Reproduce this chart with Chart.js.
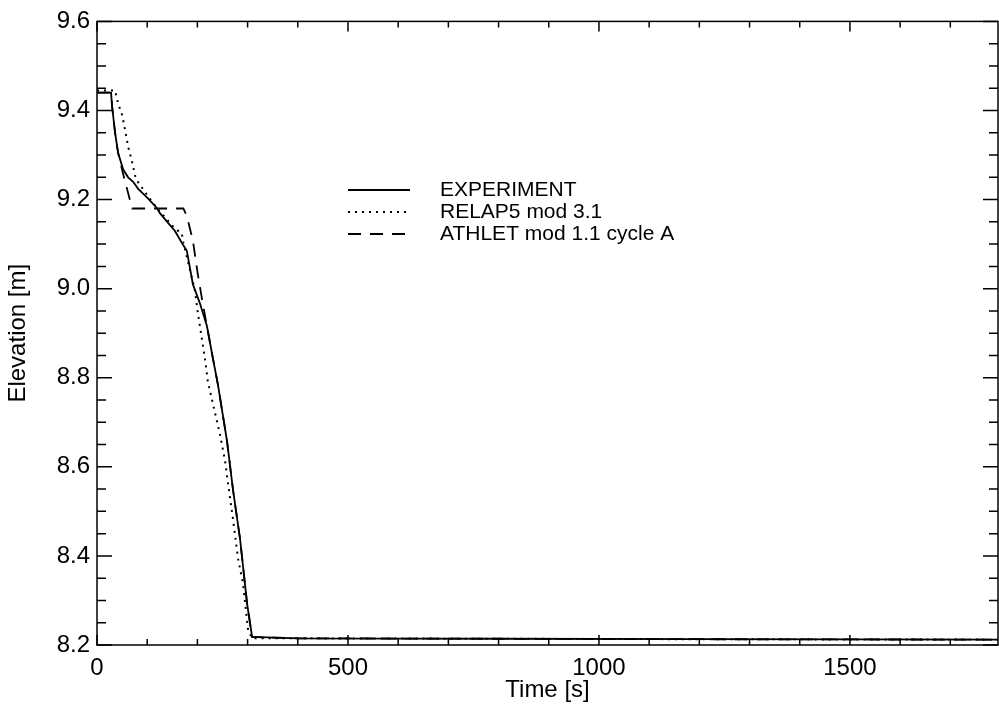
<!DOCTYPE html>
<html>
<head>
<meta charset="utf-8">
<title>Elevation vs time</title>
<script src="https://cdn.jsdelivr.net/npm/chart.js@4.4.1/dist/chart.umd.min.js"></script>
<style>
  html, body { margin: 0; padding: 0; background: #fff; overflow: hidden; }
  canvas { display: block; }
</style>
</head>
<body>
<canvas id="elevChart" width="999" height="712"></canvas>
<script>
// measured curves (time in s, elevation in m)
const expTime = [0, 28, 30, 36, 42, 52, 62, 72, 82, 102, 120, 125, 139, 155, 171, 179, 191, 205, 219, 231, 241, 259, 271, 285, 299, 309, 400, 800, 1200, 1800];
const expElev = [9.44, 9.44, 9.41, 9.35, 9.305, 9.268, 9.25, 9.24, 9.224, 9.202, 9.18, 9.17, 9.151, 9.13, 9.099, 9.085, 9.01, 8.967, 8.916, 8.843, 8.784, 8.658, 8.548, 8.438, 8.293, 8.218, 8.215, 8.214, 8.213, 8.212];

const relapTime = [0, 36, 42, 50, 56, 62, 70, 76, 80, 100, 120, 155, 169, 171, 195, 201, 209, 215, 221, 245, 255, 261, 271, 281, 291, 301, 309, 400, 800, 1200, 1800];
const relapElev = [9.445, 9.445, 9.416, 9.39, 9.356, 9.319, 9.284, 9.253, 9.242, 9.21, 9.18, 9.135, 9.124, 9.108, 8.997, 8.945, 8.887, 8.843, 8.79, 8.673, 8.614, 8.563, 8.482, 8.394, 8.337, 8.233, 8.215, 8.215, 8.214, 8.213, 8.212];

const athletTime = [0, 28, 30, 36, 42, 52, 70, 172, 179, 191, 201, 209, 219, 231, 241, 259, 271, 285, 299, 309, 400, 800, 1200, 1800];
const athletElev = [9.44, 9.44, 9.41, 9.35, 9.305, 9.258, 9.18, 9.18, 9.163, 9.108, 9.031, 8.978, 8.916, 8.843, 8.784, 8.658, 8.548, 8.438, 8.293, 8.218, 8.215, 8.214, 8.213, 8.212];

const seriesLabels = ['EXPERIMENT', 'RELAP5 mod 3.1', 'ATHLET mod 1.1 cycle A'];
const xTickValues = [0, 500, 1000, 1500];
const yTickValues = [8.2, 8.4, 8.6, 8.8, 9.0, 9.2, 9.4, 9.6];

const FONT = 'Liberation Sans, Arial, Helvetica, sans-serif';

function toPoints(ts, ys) {
  return ts.map((t, i) => ({ x: t, y: ys[i] }));
}

// frame with inward tick marks on all four sides
const frameTicks = {
  id: 'frameTicks',
  afterDatasetsDraw(chart) {
    const { ctx, chartArea: a, scales: { x, y } } = chart;
    ctx.save();
    ctx.strokeStyle = '#000';
    ctx.lineWidth = 1.5;
    ctx.setLineDash([]);
    ctx.strokeRect(a.left, a.top, a.right - a.left, a.bottom - a.top);
    ctx.beginPath();
    for (let i = 0; i * 100 <= x.max; i++) {
      const px = x.getPixelForValue(i * 100);
      const len = i % 5 === 0 ? 10 : 6;
      ctx.moveTo(px, a.bottom); ctx.lineTo(px, a.bottom - len);
      ctx.moveTo(px, a.top); ctx.lineTo(px, a.top + len);
    }
    for (let i = 0; i <= 28; i++) {
      const py = y.getPixelForValue(8.2 + i * 0.05);
      const len = i % 4 === 0 ? 15 : 9;
      ctx.moveTo(a.left, py); ctx.lineTo(a.left + len, py);
      ctx.moveTo(a.right, py); ctx.lineTo(a.right - len, py);
    }
    ctx.stroke();
    ctx.restore();
  }
};

// legend drawn inside the plot area
const innerLegend = {
  id: 'innerLegend',
  afterDatasetsDraw(chart) {
    const { ctx } = chart;
    const rows = [190, 212, 234];
    ctx.save();
    chart.data.datasets.forEach((ds, i) => {
      ctx.strokeStyle = '#000';
      ctx.lineWidth = ds.borderWidth;
      ctx.setLineDash(ds.borderDash || []);
      ctx.beginPath();
      ctx.moveTo(348, rows[i]);
      ctx.lineTo(410, rows[i]);
      ctx.stroke();
      ctx.setLineDash([]);
      ctx.fillStyle = '#000';
      ctx.font = '21px ' + FONT;
      ctx.textBaseline = 'middle';
      ctx.fillText(ds.label, 440, rows[i]);
    });
    ctx.restore();
  }
};

const myChart = new Chart(document.getElementById('elevChart'), {
  type: 'line',
  data: {
    datasets: [
      { label: seriesLabels[0], data: toPoints(expTime, expElev), borderColor: '#000', borderWidth: 1.8, pointRadius: 0, tension: 0 },
      { label: seriesLabels[1], data: toPoints(relapTime, relapElev), borderColor: '#000', borderWidth: 2, borderDash: [2, 5], pointRadius: 0, tension: 0 },
      { label: seriesLabels[2], data: toPoints(athletTime, athletElev), borderColor: '#000', borderWidth: 1.8, borderDash: [13, 9], pointRadius: 0, tension: 0 }
    ]
  },
  options: {
    responsive: false,
    animation: false,
    layout: { padding: { top: 12, right: 1, left: 0, bottom: 0 } },
    plugins: { legend: { display: false }, tooltip: { enabled: false } },
    scales: {
      x: {
        type: 'linear',
        min: 0,
        max: 1795,
        grid: { display: false, drawTicks: false },
        border: { display: false },
        afterBuildTicks: s => { s.ticks = xTickValues.map(v => ({ value: v })); },
        afterFit: s => { s.height = 67; },
        ticks: { color: '#000', font: { family: FONT, size: 24 }, padding: 9, maxRotation: 0, callback: v => String(v) },
        title: { display: true, text: 'Time [s]', color: '#000', font: { family: FONT, size: 24 }, padding: { top: 0, bottom: 7 } }
      },
      y: {
        type: 'linear',
        min: 8.2,
        max: 9.6,
        grid: { display: false, drawTicks: false },
        border: { display: false },
        afterBuildTicks: s => { s.ticks = yTickValues.map(v => ({ value: v })); },
        afterFit: s => { s.width = 97; },
        ticks: { color: '#000', font: { family: FONT, size: 24 }, padding: 7, callback: v => v.toFixed(1) },
        title: { display: true, text: 'Elevation [m]', color: '#000', font: { family: FONT, size: 24 }, padding: { top: 4, bottom: 0 } }
      }
    }
  },
  plugins: [frameTicks, innerLegend]
});
</script>
</body>
</html>
